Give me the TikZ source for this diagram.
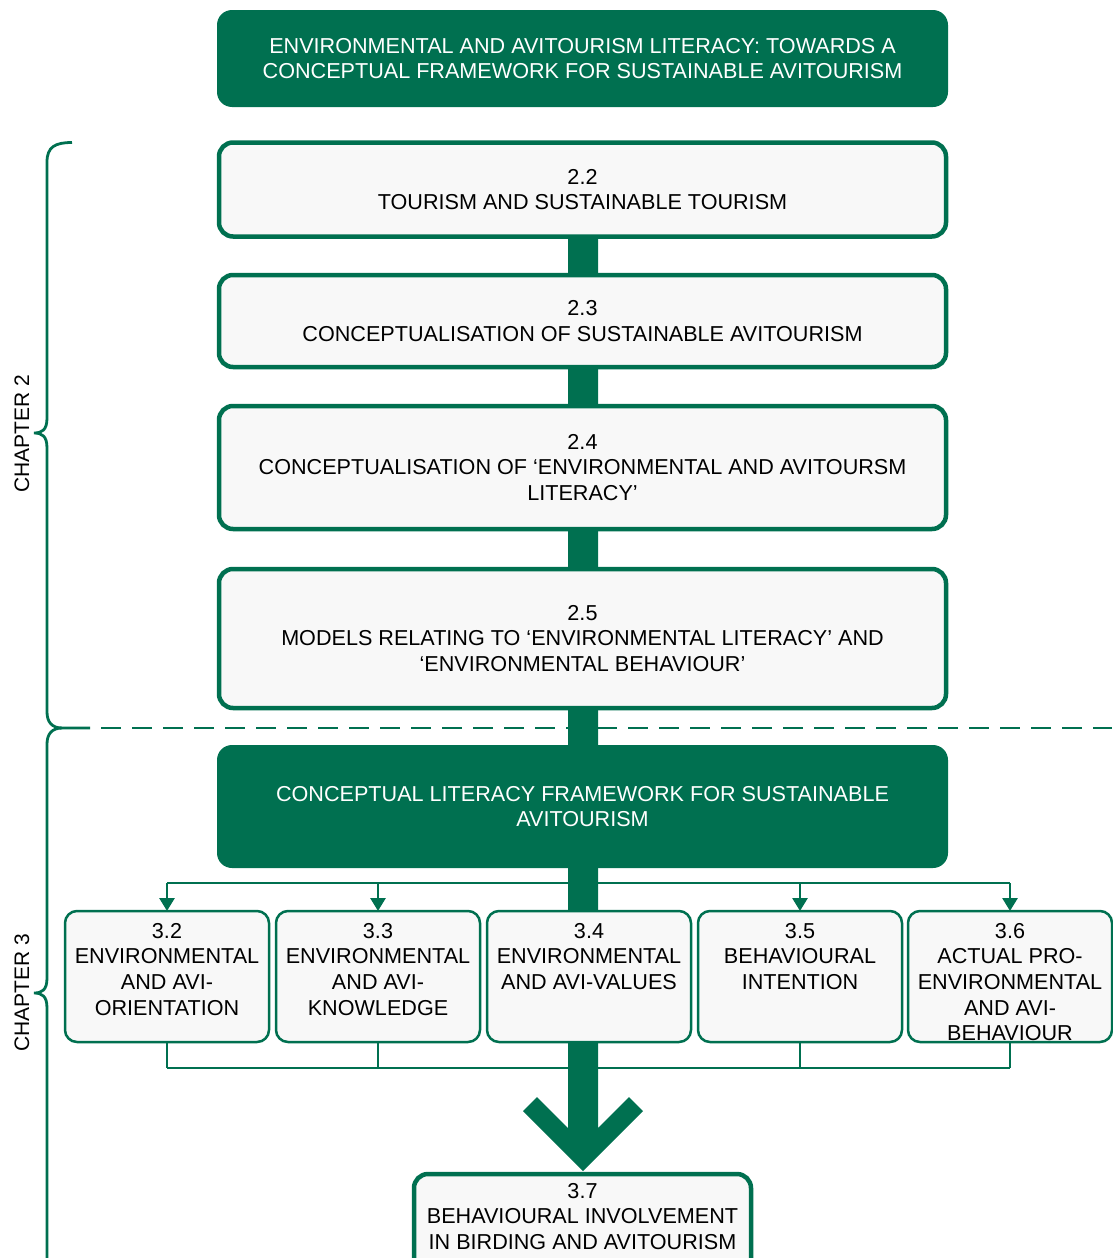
\documentclass[tikz,border=0pt]{standalone}
\usepackage{fontspec}
\setmainfont{Liberation Sans}
\usetikzlibrary{arrows.meta}

\definecolor{dkgreen}{RGB}{0,112,80}
\definecolor{boxfill}{RGB}{248,248,248}

\tikzset{
  base/.style={font=\fontsize{21.6}{25.7}\selectfont, align=center, outer sep=0pt, inner sep=0pt},
  headbox/.style={base, fill=dkgreen, text=white, rounded corners=15pt},
  mainbox/.style={base, draw=dkgreen, line width=4.5pt, fill=boxfill, rounded corners=14pt},
  smallbox/.style={base, draw=dkgreen, line width=2.5pt, fill=boxfill, rounded corners=12pt,
                   minimum width=204pt, minimum height=131pt},
  feed/.style={draw=dkgreen, line width=2.8pt},
  feedarrow/.style={feed, -{Triangle[length=13pt,width=15pt]}},
  bracket/.style={draw=dkgreen, line width=2.8pt},
  chapter/.style={font=\fontsize{21}{24}\selectfont, rotate=90, inner sep=0pt}
}
\newcommand{\stxt}[1]{\parbox[c][107pt][t]{200pt}{\centering #1}}

\begin{document}
\begin{tikzpicture}[x=1pt, y=-1pt]
  \useasboundingbox (0,0) rectangle (1112,1258);

  % main spine and final arrow head
  \fill[dkgreen] (568,238) -- (568,1128) -- (537,1097) -- (523,1111) -- (583,1171)
                 -- (643,1111) -- (629,1097) -- (598,1128) -- (598,238) -- cycle;

  % chapter brackets and divider
  \draw[bracket] (72,142.5) .. controls (55,142.5) and (47,147) .. (47,162)
       -- (47,418) .. controls (47,430) and (42,433) .. (34,433)
       .. controls (42,433) and (47,436) .. (47,448)
       -- (47,712) .. controls (47,722) and (52,728) .. (62,728) -- (90,728);
  \draw[bracket] (62,728) .. controls (52,728) and (47,734) .. (47,744)
       -- (47,978) .. controls (47,990) and (42,993) .. (34,993)
       .. controls (42,993) and (47,996) .. (47,1008) -- (47,1262);
  \draw[bracket, dash pattern=on 20pt off 11pt] (101,728) -- (1112,728);
  \node[chapter] (ch2) at (22,434) {CHAPTER 2};
  \node[chapter] (ch3) at (22,993) {CHAPTER 3};

  % chapter 2 column
  \node[headbox, minimum width=731pt, minimum height=97pt] (title) at (582.5,58.5)
    {ENVIRONMENTAL AND AVITOURISM LITERACY: TOWARDS A\\CONCEPTUAL FRAMEWORK FOR SUSTAINABLE AVITOURISM};
  \node[mainbox, minimum width=727pt, minimum height=94pt] (s22) at (582.5,189.5)
    {2.2\\TOURISM AND SUSTAINABLE TOURISM};
  \node[mainbox, minimum width=727pt, minimum height=92pt] (s23) at (582.5,321)
    {2.3\\CONCEPTUALISATION OF SUSTAINABLE AVITOURISM};
  \node[mainbox, minimum width=727pt, minimum height=123pt] (s24) at (582.5,467.5)
    {2.4\\CONCEPTUALISATION OF ‘ENVIRONMENTAL AND AVITOURSM\\LITERACY’};
  \node[mainbox, minimum width=727pt, minimum height=139pt] (s25) at (582.5,638.5)
    {2.5\\MODELS RELATING TO ‘ENVIRONMENTAL LITERACY’ AND\\‘ENVIRONMENTAL BEHAVIOUR’};

  % chapter 3 column
  \node[headbox, minimum width=731pt, minimum height=123pt] (frame) at (582.5,806.5)
    {CONCEPTUAL LITERACY FRAMEWORK FOR SUSTAINABLE\\AVITOURISM};

  \node[smallbox] (s32) at (167,976.5)  {\stxt{3.2\\ENVIRONMENTAL\\AND AVI-\\ORIENTATION}};
  \node[smallbox] (s33) at (378,976.5)  {\stxt{3.3\\ENVIRONMENTAL\\AND AVI-\\KNOWLEDGE}};
  \node[smallbox] (s34) at (589,976.5)  {\stxt{3.4\\ENVIRONMENTAL\\AND AVI-VALUES}};
  \node[smallbox] (s35) at (800,976.5)  {\stxt{3.5\\BEHAVIOURAL\\INTENTION}};
  \node[smallbox] (s36) at (1010,976.5) {\stxt{3.6\\ACTUAL PRO-\\ENVIRONMENTAL\\AND AVI-\\BEHAVIOUR}};

  % distribution from the framework to its components
  \coordinate (fork) at (583,883);
  \draw[feed] (s32.north |- fork) -- (s36.north |- fork);
  \foreach \b in {s32,s33,s35,s36}
    \draw[feedarrow] (\b.north |- fork) -- (\b.north);

  % collection of the components
  \coordinate (join) at (583,1068);
  \foreach \b in {s32,s33,s35,s36}
    \draw[feed] (\b.south) -- (\b.south |- join);
  \draw[feed] (s32.south |- join) -- (s36.south |- join);

  \node[mainbox, minimum width=337pt, minimum height=110pt, anchor=north] (s37) at (582.5,1174)
    {\parbox[t][92pt][t]{335pt}{\centering 3.7\\BEHAVIOURAL INVOLVEMENT\\IN BIRDING AND AVITOURISM}};
\end{tikzpicture}
\end{document}
